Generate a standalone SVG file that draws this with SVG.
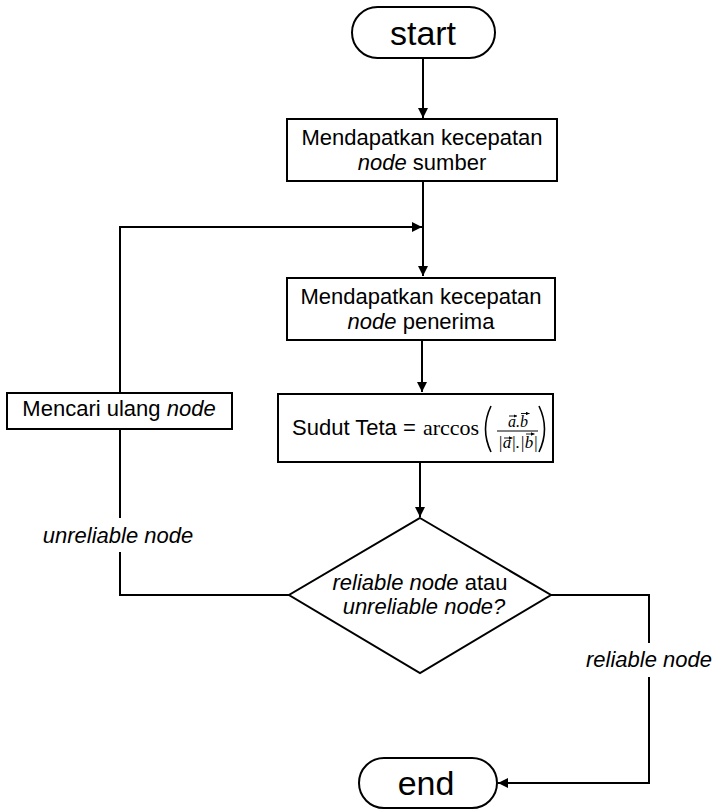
<svg xmlns="http://www.w3.org/2000/svg" width="716" height="809" viewBox="0 0 716 809">
  <style>
    .shape { fill: #ffffff; stroke: #000000; stroke-width: 2; }
    .wire { fill: none; stroke: #000000; stroke-width: 2; }
    .lbl { font-family: "Liberation Sans", Arial, sans-serif; font-size: 22px; fill: #000000; }
    .big { font-family: "Liberation Sans", Arial, sans-serif; font-size: 34px; fill: #000000; }
    .it { font-style: italic; }
    .math { font-family: "Liberation Serif", "DejaVu Serif", serif; fill: #000000; }
    .vec { fill: none; stroke: #000000; stroke-width: 0.9; }
  </style>
  <defs>
    <marker id="arrow" viewBox="0 0 10 10" refX="10" refY="5" markerWidth="10" markerHeight="10" markerUnits="userSpaceOnUse" orient="auto">
      <path d="M0,0 L10,5 L0,10 Z" fill="#000000"/>
    </marker>
    <marker id="tip" viewBox="0 0 6 6" refX="6" refY="3" markerWidth="3.5" markerHeight="3.5" markerUnits="userSpaceOnUse" orient="auto">
      <path d="M0,0 L6,3 L0,6 Z" fill="#000000"/>
    </marker>
  </defs>
  <rect width="716" height="809" fill="#ffffff"/>

  <g id="connectors">
    <path class="wire" d="M423,58 V118" marker-end="url(#arrow)"/>
    <path class="wire" d="M423,181 V276" marker-end="url(#arrow)"/>
    <path class="wire" d="M120,393 V227 H422" marker-end="url(#arrow)"/>
    <path class="wire" d="M422,340 V392" marker-end="url(#arrow)"/>
    <path class="wire" d="M420,462 V517" marker-end="url(#arrow)"/>
    <path class="wire" d="M289,595 H120 V552"/>
    <path class="wire" d="M120,518 V429"/>
    <path class="wire" d="M551,595 H649 V643"/>
    <path class="wire" d="M649,677 V783 H498" marker-end="url(#arrow)"/>
    <text class="lbl it" x="118" y="543" text-anchor="middle">unreliable node</text>
    <text class="lbl it" x="649" y="667" text-anchor="middle">reliable node</text>
  </g>

  <g id="start">
    <rect class="shape" x="352" y="7" width="143" height="51" rx="25.5"/>
    <text class="big" x="423" y="45" text-anchor="middle">start</text>
  </g>

  <g id="source-speed">
    <rect class="shape" x="287" y="119" width="270" height="62"/>
    <text class="lbl" x="422" y="145" text-anchor="middle">Mendapatkan kecepatan</text>
    <text class="lbl" x="422" y="170" text-anchor="middle"><tspan class="it">node</tspan> sumber</text>
  </g>

  <g id="receiver-speed">
    <rect class="shape" x="287" y="278" width="268" height="62"/>
    <text class="lbl" x="421" y="304" text-anchor="middle">Mendapatkan kecepatan</text>
    <text class="lbl" x="421" y="329" text-anchor="middle"><tspan class="it">node</tspan> penerima</text>
  </g>

  <g id="angle">
    <rect class="shape" x="278" y="394" width="275" height="68"/>
    <text class="lbl" x="292" y="435">Sudut Teta =</text>
    <text class="math" x="423" y="435" font-size="22">arccos</text>
    <!-- tall brackets around the fraction -->
    <path d="M491,406 Q480,429 491,452" fill="none" stroke="#000" stroke-width="1.6"/>
    <path d="M539,406 Q550,429 539,452" fill="none" stroke="#000" stroke-width="1.6"/>
    <!-- numerator a.b -->
    <text class="math it" x="518" y="427" font-size="16" text-anchor="middle">a.b</text>
    <path class="vec" d="M509,416 H517" marker-end="url(#tip)"/>
    <path class="vec" d="M521,413.5 H529.5" marker-end="url(#tip)"/>
    <line x1="497" y1="431" x2="538" y2="431" stroke="#000" stroke-width="1"/>
    <!-- denominator |a|.|b| -->
    <text class="math it" x="518" y="448" font-size="17" text-anchor="middle">|a|.|b|</text>
    <path class="vec" d="M504,438 H512.5" marker-end="url(#tip)"/>
    <path class="vec" d="M526,434 H534.5" marker-end="url(#tip)"/>
  </g>

  <g id="retry">
    <rect class="shape" x="7" y="393" width="225" height="36"/>
    <text class="lbl" x="119" y="416" text-anchor="middle">Mencari ulang <tspan class="it">node</tspan></text>
  </g>

  <g id="decision">
    <polygon class="shape" points="420,518 551,595 420,673 289,595"/>
    <text class="lbl it" x="420" y="590" text-anchor="middle">reliable node <tspan font-style="normal">atau</tspan></text>
    <text class="lbl it" x="424" y="614" text-anchor="middle">unreliable node?</text>
  </g>

  <g id="end">
    <rect class="shape" x="359" y="758" width="138" height="50" rx="25"/>
    <text class="big" x="426" y="795" text-anchor="middle">end</text>
  </g>
</svg>
